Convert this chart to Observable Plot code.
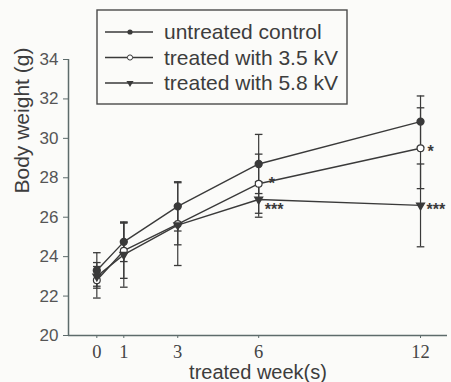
<!DOCTYPE html>
<html>
<head>
<meta charset="utf-8">
<script src="https://cdn.jsdelivr.net/npm/d3@7"></script>
<script src="https://cdn.jsdelivr.net/npm/@observablehq/plot@0.6"></script>
<style>
  html, body { margin: 0; padding: 0; background: #fbfbf9; }
  #chart { position: relative; width: 451px; height: 382px; }
</style>
</head>
<body>
<div id="chart"></div>
<script>
// ---- data ----
const weeks = [0, 1, 3, 6, 12];
const seriesNames = ["untreated control", "treated with 3.5 kV", "treated with 5.8 kV"];
const controlMean = [23.3, 24.75, 26.55, 28.7, 30.85];
const controlSD   = [0.9, 1.0, 1.25, 1.5, 1.3];
const kv35Mean    = [22.8, 24.3, 25.65, 27.7, 29.5];
const kv35SD      = [0.9, 1.4, 2.1, 1.5, 2.05];
const kv58Mean    = [23.0, 24.1, 25.6, 26.9, 26.6];
const kv58SD      = [0.5, 1.65, 1.0, 0.9, 2.1];
const yTicks = [20, 22, 24, 26, 28, 30, 32, 34];
const xTicks = [0, 1, 3, 6, 12];
const xDomain = [-1.05, 13];
const yDomain = [20, 34];
const sigSeries = ["treated with 3.5 kV", "treated with 5.8 kV", "treated with 3.5 kV", "treated with 5.8 kV"];
const sigWeek = [6, 6, 12, 12];
const sigText = ["*", "***", "*", "***"];
const xLabel = "treated week(s)";
const yLabel = "Body weight (g)";

// ---- build rows ----
const means = [controlMean, kv35Mean, kv58Mean];
const sds = [controlSD, kv35SD, kv58SD];
const rows = [];
seriesNames.forEach((s, i) => weeks.forEach((w, j) => rows.push({series: s, week: w, mean: means[i][j], sd: sds[i][j]})));
const sig = sigText.map((t, i) => {
  const r = rows.find(d => d.series === sigSeries[i] && d.week === sigWeek[i]);
  return {text: t, week: r.week, mean: r.mean};
});

const ink = "#3a3a3a";
const axisInk = "#5d6b6b";
const capSymbol = {draw(ctx, size) { const r = Math.sqrt(size / Math.PI); ctx.moveTo(-r, 0); ctx.lineTo(r, 0); }};

const plot = Plot.plot({
  width: 451,
  height: 382,
  marginLeft: 68,
  marginRight: 4,
  marginTop: 59,
  marginBottom: 47,
  style: {background: "transparent", fontFamily: "'Liberation Sans', Arial, sans-serif", color: "#4a4a4a"},
  x: {domain: xDomain},
  y: {domain: yDomain},
  marks: [
    Plot.axisY({ticks: yTicks, tickSize: 5, tickPadding: 5, fontSize: 17, stroke: axisInk, fill: "#555", label: null}),
    Plot.axisX({ticks: xTicks, tickSize: 3, tickPadding: 6, fontSize: 18.5, fontFamily: "'Liberation Serif', 'Times New Roman', serif", stroke: axisInk, fill: "#444", label: null}),
    Plot.ruleX([xDomain[0]], {y1: yDomain[0], y2: yDomain[1], stroke: axisInk, strokeWidth: 1.5}),
    Plot.ruleY([yDomain[0]], {x1: xDomain[0], x2: xDomain[1], stroke: axisInk, strokeWidth: 1.5}),
    // error bars
    Plot.ruleX(rows, {x: "week", y1: d => d.mean - d.sd, y2: d => d.mean + d.sd, stroke: ink, strokeWidth: 1.2}),
    Plot.dot(rows, {x: "week", y: d => d.mean + d.sd, symbol: capSymbol, r: 3.8, stroke: ink, strokeWidth: 1.3}),
    Plot.dot(rows, {x: "week", y: d => d.mean - d.sd, symbol: capSymbol, r: 3.8, stroke: ink, strokeWidth: 1.3}),
    // lines
    Plot.line(rows, {x: "week", y: "mean", z: "series", stroke: ink, strokeWidth: 1.4}),
    // markers
    Plot.dot(rows.filter(d => d.series === seriesNames[0]), {x: "week", y: "mean", r: 3.4, fill: ink, stroke: ink}),
    Plot.dot(rows.filter(d => d.series === seriesNames[1]), {x: "week", y: "mean", r: 3.4, fill: "#fff", stroke: ink, strokeWidth: 1.2}),
    Plot.dot(rows.filter(d => d.series === seriesNames[2]), {x: "week", y: "mean", symbol: "triangle", rotate: 180, r: 2.8, fill: ink, stroke: ink}),
    // significance
    Plot.text([sig[0]], {x: "week", y: "mean", text: "text", textAnchor: "start", dx: 10, dy: 0, fontSize: 16, fontWeight: "bold", fill: ink}),
    Plot.text([sig[1]], {x: "week", y: "mean", text: "text", textAnchor: "start", dx: 6, dy: 10, fontSize: 16, fontWeight: "bold", fill: ink, style: "letter-spacing:1.5px"}),
    Plot.text([sig[2]], {x: "week", y: "mean", text: "text", textAnchor: "start", dx: 7, dy: 4, fontSize: 16, fontWeight: "bold", fill: ink}),
    Plot.text([sig[3]], {x: "week", y: "mean", text: "text", textAnchor: "start", dx: 6, dy: 4, fontSize: 16, fontWeight: "bold", fill: ink, style: "letter-spacing:0.5px"}),
    // axis labels
    Plot.text([xLabel], {frameAnchor: "bottom", lineAnchor: "bottom", dy: 43, fontSize: 20, fill: "#3d3d3d"}),
    Plot.text([yLabel], {frameAnchor: "left", lineAnchor: "middle", dx: -46, dy: -4, rotate: -90, fontSize: 21, fill: "#3d3d3d"})
  ]
});
document.getElementById("chart").appendChild(plot);

// ---- legend ----
const svg = d3.select(plot);
const lg = svg.append("g").attr("text-anchor", "start");
lg.append("rect").attr("x", 97).attr("y", 10).attr("width", 250).attr("height", 94)
  .attr("fill", "none").attr("stroke", "#4a4a4a").attr("stroke-width", 1.4);
const rowY = [32, 57.5, 83];
seriesNames.forEach((s, i) => {
  const g = lg.append("g").attr("transform", `translate(0,${rowY[i]})`);
  g.append("line").attr("x1", 105).attr("x2", 153).attr("y1", 0).attr("y2", 0).attr("stroke", ink).attr("stroke-width", 1.3);
  if (i === 0) g.append("circle").attr("cx", 130).attr("cy", 0).attr("r", 2.6).attr("fill", ink);
  if (i === 1) g.append("circle").attr("cx", 130).attr("cy", 0).attr("r", 2.6).attr("fill", "#fff").attr("stroke", ink).attr("stroke-width", 1);
  if (i === 2) g.append("path").attr("d", d3.symbol(d3.symbolTriangle, 22)()).attr("transform", "translate(130,0) rotate(180)").attr("fill", ink);
  g.append("text").attr("x", 164).attr("y", 0).attr("dy", "0.35em").attr("text-anchor", "start").attr("font-size", 21).attr("fill", "#3d3d3d").text(s);
});
</script>
</body>
</html>
